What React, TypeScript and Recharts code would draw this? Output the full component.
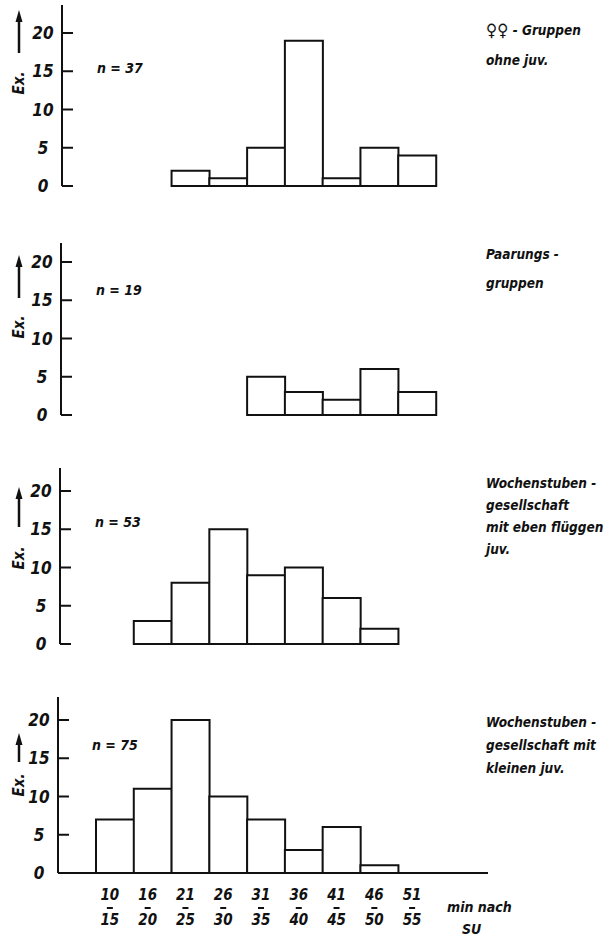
import { BarChart, Bar, XAxis, YAxis } from 'recharts';

// Zeitklassen (min nach SU)
const binFrom = ['10', '16', '21', '26', '31', '36', '41', '46', '51'];
const binTo = ['15', '20', '25', '30', '35', '40', '45', '50', '55'];
const yTicks = [0, 5, 10, 15, 20];

// Anzahl Ex. je Zeitklasse
const femaleGroups = [0, 0, 2, 1, 5, 19, 1, 5, 4];
const matingGroups = [0, 0, 0, 0, 5, 3, 2, 6, 3];
const fledgedNursery = [0, 3, 8, 15, 9, 10, 6, 2, 0];
const youngNursery = [7, 11, 20, 10, 7, 3, 6, 1, 0];

const seriesList = [femaleGroups, matingGroups, fledgedNursery, youngNursery];
const sampleSizes = ['37', '19', '53', '75'];
const captions = [
  ['♀♀ - Gruppen', 'ohne juv.'],
  ['Paarungs -', 'gruppen'],
  ['Wochenstuben -', 'gesellschaft', 'mit eben flüggen', 'juv.'],
  ['Wochenstuben -', 'gesellschaft mit', 'kleinen juv.'],
];

// page layout of the four panels
const layout = [
  { axisX: 62, top: 5, base: 186, right: 490, arrow: [10, 53], exY: 83, nX: 97, nY: 68, capY: 30, capGap: 30 },
  { axisX: 61, top: 243, base: 415, right: 490, arrow: [255, 298], exY: 327, nX: 96, nY: 290, capY: 254, capGap: 29 },
  { axisX: 60, top: 468, base: 644, right: 488, arrow: [487, 527], exY: 558, nX: 95, nY: 522, capY: 483, capGap: 22 },
  { axisX: 58, top: 697, base: 873, right: 488, arrow: [733, 762], exY: 785, nX: 92, nY: 745, capY: 722, capGap: 23 },
];

const BIN_LEFT = 96;
const BIN_RIGHT = 436;
const PX_PER_UNIT = 7.65;
const FONT = "'DejaVu Sans Condensed', 'DejaVu Sans', sans-serif";
const ink = '#111';

function CountTick(props: any) {
  const { x, y, payload } = props;
  const ax = x + 8;
  return (
    <g>
      <line x1={ax} x2={ax + 11} y1={y} y2={y} stroke={ink} strokeWidth={2} />
      <text x={ax - 19} y={y} textAnchor="middle" dominantBaseline="central" fontFamily={FONT} fontStyle="italic" fontWeight="bold" fontSize={17} fill={ink}>
        {payload.value}
      </text>
    </g>
  );
}

function BinTick(props: any) {
  const { x, y, payload } = props;
  const k = payload.index;
  const cx = x - 5;
  const txt = { textAnchor: 'middle' as const, dominantBaseline: 'central' as const, fontFamily: FONT, fontStyle: 'italic', fontWeight: 'bold', fontSize: 15, fill: ink };
  return (
    <g>
      <text x={cx} y={y + 22} {...txt}>{binFrom[k]}</text>
      <line x1={cx - 3} x2={cx + 3} y1={y + 35} y2={y + 35} stroke={ink} strokeWidth={2} />
      <text x={cx} y={y + 47} {...txt}>{binTo[k]}</text>
    </g>
  );
}

function Panel({ values, i }: { values: number[]; i: number }) {
  const l = layout[i];
  const last = i === seriesList.length - 1;
  const data = values.map((v, k) => ({ bin: binFrom[k], count: v || null }));
  const padT = 10;
  const padB = 14;
  const xH = last ? 62 : 0;
  const h = padT + (l.base - l.top) + xH + padB;
  const yMax = (l.base - l.top) / PX_PER_UNIT;
  return (
    <div style={{ position: 'absolute', left: 0, top: l.top - padT }}>
      <BarChart
        width={612}
        height={h}
        data={data}
        margin={{ top: padT, right: 612 - l.right, bottom: padB, left: l.axisX - 40 }}
        barCategoryGap={0}
        barGap={0}
      >
        <XAxis
          dataKey="bin"
          height={xH}
          interval={0}
          padding={{ left: BIN_LEFT - l.axisX, right: l.right - BIN_RIGHT }}
          tickLine={false}
          tickSize={0}
          tickMargin={0}
          axisLine={{ stroke: ink, strokeWidth: 2 }}
          tick={last ? <BinTick /> : false}
        />
        <YAxis
          width={40}
          domain={[0, yMax]}
          ticks={yTicks}
          interval={0}
          tickSize={0}
          tickMargin={8}
          tickLine={false}
          axisLine={{ stroke: ink, strokeWidth: 2 }}
          tick={<CountTick />}
        />
        <Bar dataKey="count" fill="#fff" stroke={ink} strokeWidth={2} isAnimationActive={false} />
      </BarChart>
    </div>
  );
}

function Caption({ text, x, y }: { text: string; x: number; y: number }) {
  const txt = { fontFamily: FONT, fontStyle: 'italic', fontWeight: 'bold', fill: ink };
  const sym = text.startsWith('♀♀') ? '♀♀' : '';
  return (
    <text x={x} y={y} dominantBaseline="central" fontSize={13.5} {...txt}>
      {sym && <tspan fontSize={17} fontStyle="normal">{sym}</tspan>}
      {text.slice(sym.length)}
    </text>
  );
}

export default function App() {
  const txt = { fontFamily: FONT, fontStyle: 'italic', fontWeight: 'bold', fill: ink };
  return (
    <div style={{ position: 'absolute', left: 0, top: 0, width: 612, height: 941, background: '#fff', overflow: 'hidden' }}>
      {seriesList.map((s, i) => (
        <Panel key={i} values={s} i={i} />
      ))}
      <svg width={612} height={941} style={{ position: 'absolute', left: 0, top: 0, pointerEvents: 'none' }}>
        {layout.map((l, i) => (
          <g key={i}>
            <line x1={19} x2={19} y1={l.arrow[1]} y2={l.arrow[0] + 8} stroke={ink} strokeWidth={2.5} />
            <polygon points={`19,${l.arrow[0]} 15.5,${l.arrow[0] + 12} 22.5,${l.arrow[0] + 12}`} fill={ink} />
            <text x={19} y={l.exY} transform={`rotate(-90, 19, ${l.exY})`} textAnchor="middle" dominantBaseline="central" fontSize={15} {...txt}>
              Ex.
            </text>
            <text x={l.nX} y={l.nY} dominantBaseline="central" fontSize={14} {...txt}>
              {`n = ${sampleSizes[i]}`}
            </text>
            {captions[i].map((c, k) => (
              <Caption key={k} text={c} x={486} y={l.capY + k * l.capGap} />
            ))}
          </g>
        ))}
        <text x={447} y={907} dominantBaseline="central" fontSize={14} {...txt}>min nach</text>
        <text x={462} y={929} dominantBaseline="central" fontSize={14} {...txt}>SU</text>
      </svg>
    </div>
  );
}
